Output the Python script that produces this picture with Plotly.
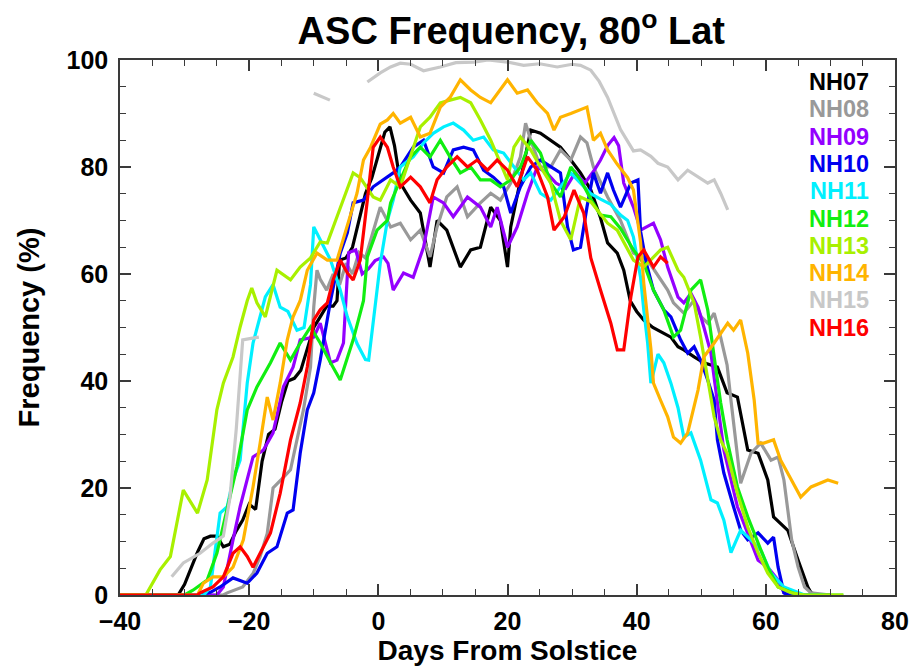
import plotly.graph_objects as go

# ---- Daily ASC frequency (%) at 80 deg latitude, by season ----
days_nh07 = [-40, -31, -30, -29, -28, -27, -26, -25, -24, -23, -22, -21, -20, -19, -18, -17, -16, -15, -14, -13,
             -12, -11, -10, -9, -8, -7, -6.4, -6, -5, -4, -3, -2, -1, 0, 1, 1.8, 2.5, 3.4, 5, 6.5, 8, 9.1, 10.6,
             12.7, 14.3, 15.8, 17.4, 18.9, 20, 20.5, 22, 23.6, 25.1, 26.7, 28.2, 29.8, 31.3, 32.9, 34.4, 35.5, 37,
             38, 39, 40, 41.1, 42.5, 44, 45.3, 46.4, 47.3, 48.9, 50.4, 52.5, 54, 55.6, 57.2, 58.8, 60.3, 61.2, 63.4,
             65, 66.5, 67, 68, 70]
freq_nh07 = [0, 0, 2, 5, 8, 10.5, 11, 11, 9, 9.5, 12, 14, 17, 16, 25, 30, 31, 36, 40, 40.5,
             42, 46, 50, 52, 54, 54, 55, 62.6, 63, 65, 70, 75, 78, 82, 86.5, 87.5, 84, 77, 73.8, 71.4, 61.3, 70, 68.2,
             61.3, 64.5, 65, 72.5, 70, 61.3, 68.8, 77.6, 86.9, 86.3, 85, 83.7, 81.3, 78.9, 75.7, 70.5, 65.8, 63.9,
             60.7, 55, 53, 51.4, 50, 49, 48.2, 46.4, 45.8, 44.5, 43.4, 42.6, 37.8, 37, 27.1, 26.5, 21.5, 14.6, 12.1,
             6.5, 1.5, 0.4, 0, 0]

days_nh08 = [-40, -24, -23.4, -21, -19.4, -18.3, -17.2, -16.3, -14.7, -13.6, -12.6, -11.6, -10.5, -10, -9.5, -9,
             -8, -7, -6, -5, -4, -3, -2, -1, 0.3, 1.9, 3.4, 5, 6.5, 8, 9.1, 10.6, 12.2, 13.8, 15.8, 17.4, 18.9,
             20.5, 22, 22.8, 23.6, 25.1, 26.7, 28.2, 29.8, 31.3, 32.3, 33.3, 35.5, 37.5, 39.5, 41.7, 43.7, 44.8,
             45.7, 47.3, 48.9, 50, 51, 52, 53, 54, 54.6, 55.2, 56.1, 57.7, 59.2, 60.8, 61.9, 62.8, 64, 65, 66, 67, 70]
freq_nh08 = [0, 0, 0.4, 1.5, 4, 7.2, 11.5, 20, 22, 23.4, 29, 34.6, 42.6, 53.8, 60.7, 59,
             57, 60, 58, 62, 60, 64, 63, 67, 72.5, 68.8, 69.5, 66.4, 68.2, 63.2, 68.8, 74.4, 76.3, 70.7, 73.3, 75.1, 73.8,
             77, 81.9, 88.2, 85, 80, 80, 83.2, 81.3, 85.6, 84.5, 80, 74.4, 70, 63.9, 62.6, 58.9, 57,
             54.6, 52.7, 55.1, 52, 50.8, 52.7, 48.2, 43, 36.4, 30, 20.9, 26.5, 28.4, 25.2, 25.8, 21.5, 10.3, 5.2, 1.5, 0.4, 0]

days_nh09 = [-40, -25, -24, -23.4, -22.5, -21.4, -19.4, -17.8, -16.3, -14.7, -13.2, -12.1, -10, -9, -7.4, -6.4,
             -5.4, -4.6, -3.5, -2.5, -1.5, -0.5, 0.8, 1.5, 2.3, 3.9, 5.4, 7, 8.5, 10.1, 11.6, 13.8, 15.8, 17.4, 18.4,
             20, 21.5, 23.1, 24.6, 26, 27.5, 29, 30.5, 32, 33.5, 34.4, 35.5, 36.5, 37.2, 38, 39.5, 40.6, 42.6, 43.7,
             44.8, 46.4, 47.3, 48.4, 49.5, 50.4, 51.5, 52.5, 53.5, 55.6, 57.2, 58.8, 60.3, 61.9, 62.8, 63.5, 67]
freq_nh09 = [0, 0, 1.5, 5.2, 10.3, 16.5, 25.8, 27.1, 30.3, 38.9, 42.6, 47.7, 48.2, 50.8, 43.4, 43.9,
             47.1, 64, 64.5, 60, 61, 62.5, 63.2, 62, 57, 60.2, 59.4, 65, 74.4, 73.3, 70.7, 74.4, 72.5, 68.8, 72.5,
             65, 68.8, 75.1, 80, 79, 77, 76, 79, 77, 79.5, 81.3, 84, 85.5, 84, 77, 72.5, 68.2, 69.5, 66.4,
             61.3, 55.7, 54.6, 56.4, 53.8, 50.1, 45.2, 36, 27.1, 16.5, 11.6, 6.5, 5.2, 2.8, 0.4, 0, 0]

days_nh10 = [-40, -28, -26, -24.5, -22.5, -20.3, -18.8, -17.2, -15.7, -14.1, -13.2, -12.1, -11, -10, -9, -7.4,
             -5.9, -4.8, -3.9, -2.3, -0.8, 0.8, 2.3, 3.4, 5.4, 7, 8.5, 10.1, 11.6, 13.2, 14.7, 16.3, 17.8, 19.4,
             20.5, 22, 23.6, 25.1, 26.7, 28.2, 29.3, 30.2, 31.3, 32.3, 33.3, 34.4, 35.5, 36.4, 37.5, 39.1, 40.2,
             40.6, 41.5, 42.6, 44.2, 45.3, 46.8, 47.9, 48.9, 49.9, 51, 52, 52.5, 53.5, 55, 56.1, 57.2, 58.8, 60.3,
             61.2, 61.9, 62.8, 63.5, 66]
freq_nh10 = [0, 0, 0.5, 1.5, 3.2, 2.2, 4.1, 7.8, 9, 15.3, 15.9, 26.5, 34.6, 37.8, 43.9, 55,
             63.9, 67.7, 73.3, 73.8, 76.3, 77.6, 78.9, 80, 83.7, 85, 80, 78.9, 83.2, 83.7, 83.2, 79.4, 78.1, 76.3,
             71.4, 76.3, 80, 81.3, 80, 78.9, 68.8, 64.5, 65, 72.5, 78.9, 75.1, 78.9, 75.7, 72.5, 77, 77.6,
             68, 62, 57, 53.3, 52, 47.7, 45.2, 46.4, 43.9, 40.2, 36.4, 29, 22.8, 16.5, 12.1, 10.3, 11.6, 9.7,
             10.8, 5.2, 0.4, 0, 0]

days_nh11 = [-40, -27, -26, -24.5, -23.4, -22.5, -21.4, -20.3, -19.4, -18.3, -17.5, -16.3, -15.2, -14, -12.6,
             -11.5, -10.5, -10, -9, -7.4, -5.9, -4.8, -3.3, -2, -1.5, -0.5, 0.3, 1.4, 2.3, 3.4, 5.4, 7, 8.5, 10.1,
             11.6, 13.2, 14.7, 16.3, 17.8, 19.4, 21, 22.5, 23.6, 25.1, 26.7, 28.2, 29.8, 31.3, 32.9, 34.4, 36, 37.5,
             38.6, 39.5, 40.6, 41.1, 41.7, 42.2, 43.3, 44.2, 45.3, 46.4, 47.3, 48.4, 49.9, 51.5, 52.5, 53.5, 54.6,
             56.1, 57.7, 59.2, 60.8, 62.8, 65, 66, 69]
freq_nh11 = [0, 0, 1.5, 15.3, 16.5, 21.5, 25.2, 39.6, 47.1, 52, 55.7, 58, 53.8, 53, 49.5,
             50, 58, 68.8, 66.4, 62.6, 57, 52, 47, 44, 43.9, 54, 62, 70, 73.8, 80, 81.9, 84.5, 86.3, 87.5,
             88.2, 86.9, 85, 85.6, 83.2, 82.6, 80, 77.6, 78.9, 75.1, 73.8, 76.3, 78.9, 77, 75, 74, 73, 71,
             70, 66.9, 59.4, 53.3, 47.1, 39.6, 45, 43.4, 39.6, 35, 29.5, 30.3, 25.2, 17.8, 17.2, 14, 7.9,
             12.1, 10.3, 8.4, 4.1, 1.5, 0.4, 0, 0]

days_nh12 = [-40, -30, -28.7, -26.5, -25, -23.4, -21.9, -20.3, -18.8, -16.7, -15.2, -13.6, -12.1, -10.5, -9, -7.4,
             -5.9, -3.9, -2.3, -1.7, -0.2, 1.4, 1.9, 3.4, 5, 6.5, 8, 9.6, 11.1, 12.7, 14.3, 15.8, 17.4, 18.9, 20.5,
             22, 23.6, 25.1, 26.7, 28.2, 29.8, 31.3, 32.9, 34.4, 36, 37.5, 39.5, 41.1, 42.6, 44.2, 45.7, 46.8,
             48.4, 49.9, 51, 52, 53, 54, 55.6, 57.2, 58.8, 60.3, 61.9, 64, 65, 72]
freq_nh12 = [0, 0, 0.9, 2.8, 7.8, 16.5, 24, 34.6, 38.9, 43.4, 47.1, 43.9, 47.1, 50.1, 47.1, 43.4,
             40.2, 47.7, 55, 63.2, 68.2, 70, 73.3, 77.6, 81.9, 83.7, 81.9, 85, 81.9, 78.9, 80, 77.6, 77.6, 76.3, 77.6,
             80, 85, 82.6, 77, 74.4, 80, 77.6, 74, 71, 70.7, 68.5, 64.5, 62, 57, 53.3, 48.2, 49.5,
             57, 58.9, 53.3, 44.5, 36, 29, 20.2, 14.6, 9.7, 5.2, 1.5, 0.4, 0, 0]

days_nh13 = [-40, -36, -33.8, -32.2, -30.2, -28, -26.5, -25, -24, -22.5, -21.4, -20.3, -19.6, -18.8, -17.5,
             -15.7, -13.6, -12.1, -10.5, -9, -7.9, -7, -4.8, -3.9, -2.8, -0.8, 0.3, 1.9, 3.4, 5, 6.5, 8, 9.6,
             11.1, 12.7, 14.3, 15.8, 17.4, 18.9, 20, 21, 22, 23.6, 25.1, 26.7, 28.2, 29.8, 31.3, 32.9, 35.5, 37,
             38.6, 39.5, 41.1, 43.7, 44.8, 46.4, 47.3, 48.9, 49.9, 51, 52, 53, 54, 55.6, 57.2, 58.8, 60.3, 61.9,
             64, 66, 72]
freq_nh13 = [0, 0, 4.7, 7.2, 19.6, 15.3, 21.5, 34.6, 39.6, 44.5, 50.1, 55, 57.4, 54.6, 52,
             60.7, 58.9, 61.3, 63, 66, 65.8, 68.8, 76.3, 78.9, 78, 74.4, 73.8, 77.6, 76.3, 82, 87.5, 89.3, 92,
             92.5, 93, 92, 88.8, 85, 80.7, 77.6, 83.7, 85.6, 83.2, 80, 77, 70, 66.4, 74.4, 73.5, 69.5, 68.2,
             64.5, 62.6, 61.3, 64.5, 65, 60.7, 59.4, 54.6, 48.2, 40.7, 33.3, 29, 26.5, 19, 12.7, 7.9, 4.1, 1.5,
             0.4, 0, 0]

days_nh14 = [-40, -28, -27.1, -25.6, -24, -22.5, -20.9, -19.4, -18.3, -17.2, -16.3, -15.2, -14.1, -13.2, -12.1,
             -11, -9.5, -7.9, -6.4, -4.8, -3.3, -2.3, -1.2, 0.3, 1.4, 2.3, 3.4, 5, 6.5, 8, 9.6, 11.1, 12.7, 14.3,
             15.8, 17.4, 18.9, 20, 21.5, 23.1, 24.6, 26.2, 27.2, 28.2, 29.8, 31.3, 32.3, 33.3, 34.4, 35.5, 37,
             38.6, 39.5, 40.6, 41.1, 42.2, 42.6, 43.7, 44.8, 45.7, 46.8, 47.9, 49.5, 50.4, 52, 54.1, 55, 56.1,
             57.2, 58.2, 58.8, 59.7, 61.2, 62.3, 64, 65.4, 67, 68.5, 69.6, 71.2]
freq_nh14 = [0, 0, 2.2, 3.4, 3.4, 5.2, 10.3, 20.2, 28.4, 37, 32.7, 39.6, 47.7, 52, 55,
             60.7, 63.9, 62.6, 62.6, 68.8, 75.1, 81.3, 83.7, 88, 88.8, 90, 88.2, 89.3, 85.6, 86.3, 91.2, 93, 96.3, 94.4,
             93, 92, 94.4, 96.3, 93.8, 94.4, 92, 90, 86.9, 89.3, 90, 90.7, 91.2, 85, 86.3, 83.2, 80.5,
             78, 75.7, 66, 58.3, 46, 39.6, 36.4, 33.3, 29.5, 28.4, 30.3, 38.3, 44.5, 47.1, 50.8, 49.5, 51.4,
             45.2, 36.4, 28.4, 28.4, 29, 25.2, 21.5, 18.3, 20.2, 20.9, 21.5, 20.9]

# NH15 has missing days (None breaks the line)
days_nh15 = [-32, -30.2, -27.6, -25.6, -24, -23, -22, -21, -19.5, -18.5, -18,
             -10, -8.5, -7.5, -7,
             -1.7, 0.3, 1.9, 3.4, 5, 7, 9.6, 12, 14.8, 17, 20, 22.5, 25, 27.7, 30, 31.3, 32.9, 34.2, 35.5,
             37.5, 39.5, 40.6, 42.2, 43.3, 44.8, 46.4, 47.9, 49.5, 51, 52, 53, 54.1]
freq_nh15 = [3.4, 6, 7.8, 9.7, 11, 18, 31, 47.7, 48, 48.2, None,
             93.8, 93, 92.5, None,
             95.9, 97.6, 98.7, 99.4, 99.2, 98, 98.7, 99.5, 99.6, 100, 99.6, 99, 99.3, 98.7, 99.2, 99, 98.1, 96, 93,
             87, 83, 83.2, 82, 80.7, 80, 77.6, 79.4, 78.1, 77, 77.6, 75.1, 72]

days_nh16 = [-40, -28, -27.6, -25.6, -24, -22.5, -21.4, -20.3, -19.4, -18.3, -16.7, -15.2, -13.6, -12.1, -11, -10,
             -9, -7.9, -7, -5.9, -4.8, -3.9, -2.8, -1.7, -0.8, 0.3, 1.4, 2.3, 3.4, 5, 6.5, 8, 9.1, 10.6, 12.2,
             13.8, 15.3, 16.9, 18.4, 20, 21.5, 23.1, 24.6, 26.2, 27.2, 28.8, 30.3, 31.8, 32.9, 34.4, 36, 37, 38,
             39.1, 40.2, 41.1, 42.6, 43.7, 44.8]
freq_nh16 = [0, 0, 0.4, 1.5, 3.4, 7.8, 9, 7.2, 5.2, 7.8, 11.6, 19, 29, 35.9, 42.6, 51.4,
             53.3, 54.6, 58.9, 62.6, 60.2, 58.9, 62.6, 73.8, 83.7, 85.6, 83.7, 80, 76.3, 78.1, 76.3, 73.3, 77.6, 80, 81.9,
             80, 81.3, 79.4, 81.3, 79.4, 76.3, 81.9, 79.4, 74.4, 68.2, 70.7, 75.7, 71.4, 63, 57, 50.8, 45.8, 45.8,
             55.7, 63.2, 64.5, 61.3, 63.2, 62]

season_names = ["NH07", "NH08", "NH09", "NH10", "NH11", "NH12", "NH13", "NH14", "NH15", "NH16"]
season_colors = ["#000000", "#999999", "#9400ff", "#0000f0", "#00f0ff", "#11ee11", "#a8f000", "#ffb400",
                 "#c8c8c8", "#ff0000"]
season_days = [days_nh07, days_nh08, days_nh09, days_nh10, days_nh11, days_nh12, days_nh13, days_nh14,
               days_nh15, days_nh16]
season_freq = [freq_nh07, freq_nh08, freq_nh09, freq_nh10, freq_nh11, freq_nh12, freq_nh13, freq_nh14,
               freq_nh15, freq_nh16]

FONT = "Liberation Sans, Arial, Helvetica, sans-serif"

fig = go.Figure()
for name, color, d, f in zip(season_names, season_colors, season_days, season_freq):
    fig.add_trace(go.Scatter(x=d, y=f, mode="lines", name=name,
                             line=dict(color=color, width=3.2),
                             connectgaps=False, showlegend=False))

# season labels stacked down the right side, in their line colours
label_top_px, label_step_px = 82, 27.3
plot_top_px, plot_bottom_px = 60, 595
for i, (name, color) in enumerate(zip(season_names, season_colors)):
    ypx = label_top_px + i * label_step_px
    fig.add_annotation(x=0.968, y=(plot_bottom_px - ypx) / (plot_bottom_px - plot_top_px),
                       xref="paper", yref="paper", xanchor="right", yanchor="middle",
                       text=name, showarrow=False, borderpad=0,
                       font=dict(family=FONT, size=23.5, color=color, weight="bold"))

axis_common = dict(
    showgrid=False, zeroline=False, showline=True, linecolor="#3a3a3a", linewidth=1.5,
    mirror="ticks", ticks="inside", ticklen=11, tickwidth=1.5, tickcolor="#3a3a3a",
    automargin=False,
    tickfont=dict(family=FONT, size=25, color="#000000", weight="bold"),
    minor=dict(ticks="inside", ticklen=6, tickwidth=1.2, tickcolor="#3a3a3a", dtick=5),
)

fig.update_layout(
    width=913, height=671,
    margin=dict(l=120, r=18, t=60, b=76, autoexpand=False),
    paper_bgcolor="white", plot_bgcolor="white",
    title=dict(text="ASC Frequency, 80<sup>o</sup> Lat", x=0.56, xanchor="center",
               y=1 - 31 / 671, yanchor="middle", yref="container",
               font=dict(family=FONT, size=38, color="#000000", weight="bold")),
    xaxis=dict(range=[-40, 80], tickvals=[-40, -20, 0, 20, 40, 60, 80],
               ticklabelstandoff=3,
               title=dict(text="Days From Solstice", standoff=2,
                          font=dict(family=FONT, size=28, color="#000000", weight="bold")),
               **axis_common),
    yaxis=dict(range=[0, 100], tickvals=[0, 20, 40, 60, 80, 100],
               ticklabelstandoff=5,
               title=dict(text="Frequency (%)", standoff=18,
                          font=dict(family=FONT, size=29, color="#000000", weight="bold")),
               **axis_common),
)

fig.write_html("out.html")
